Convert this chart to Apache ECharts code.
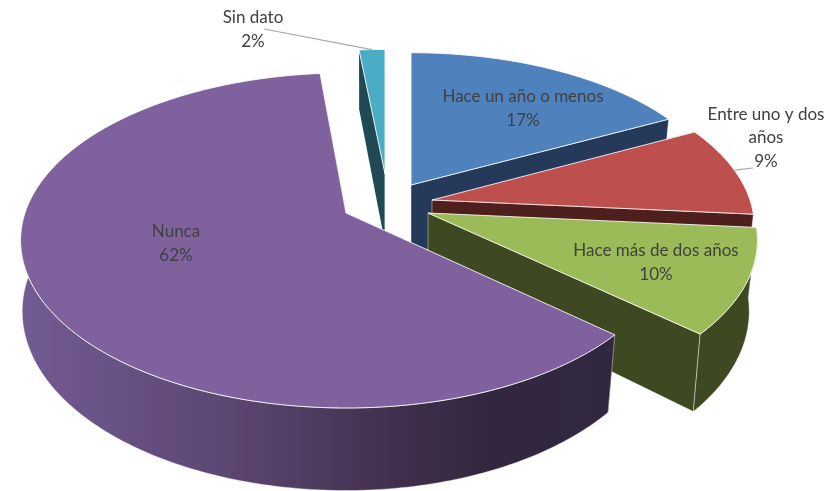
<!DOCTYPE html>
<html><head><meta charset="utf-8">
<style>html,body{margin:0;padding:0;background:#fff}#c{width:827px;height:491px}</style>
<script src="https://cdn.jsdelivr.net/npm/echarts@6/dist/echarts.min.js"></script>
</head><body><div id="c"></div>
<script>
// ---- data (clockwise from 12 o'clock) ----
const categories = ['Hace un año o menos', 'Entre uno y dos años', 'Hace más de dos años', 'Nunca', 'Sin dato'];
const shares = [17.4, 9, 10.2, 61.9, 1.5];
const labelNames = ['Hace un año o menos', 'Entre uno y dos\naños', 'Hace más de dos años', 'Nunca', 'Sin dato'];

// ---- layout and style (separate from the data) ----
const apexes = [[411,185],[432,200],[428,213],[346,213],[385,174]];
const rimRadii = [[312,154],[318,159],[325,162],[321,163],[321,145]];
const labelCentres = [[523,108.5],[766,138],[656,262.5],[176,243.5],[253,29.5]];
const leaderEnds = [null,[753,168],null,null,[264,29]];
const topColors = ['#4f81bd','#bd4f4c','#9bbb59','#7f619d','#4bacc6'];
const wallColors = ['#253a5a','#4f1f1d','#3f4921',null,'#1f4a54'];
const paintOrder = [1,2,3,4,0];   // z order of each slice: teal, blue, red, green, purple
const PERSP = 0.164, DEPTH = 69, SHRINK_RIGHT = 0.975, SHRINK_LEFT = 0.995;

const total = shares.reduce((a,b)=>a+b,0);
const rad = d => d*Math.PI/180;
function rimTop(i, deg){
  const u=Math.sin(rad(deg)), v=Math.cos(rad(deg)), s=1/(1+PERSP*v);
  return {x:apexes[i][0]+rimRadii[i][0]*u*s, y:apexes[i][1]-rimRadii[i][1]*v*s, s};
}
function rimBottom(i, deg){
  const p=rimTop(i,deg), dx=p.x-apexes[i][0];
  return [apexes[i][0]+dx*(dx<0?SHRINK_LEFT:SHRINK_RIGHT), p.y+DEPTH*p.s];
}
function arc(fn, i, a0, a1){
  const pts=[], n=Math.max(4,Math.ceil(a1-a0));
  for(let k=0;k<=n;k++){
    const r=fn(i,a0+(a1-a0)*k/n);
    pts.push(Array.isArray(r)?r:[r.x,r.y]);
  }
  return pts;
}
function renderItem(params, api){
  const i=params.dataIndex;
  let startShare=0;
  for(let k=0;k<i;k++) startShare+=shares[k];
  const a0=startShare/total*360, a1=a0+api.value(0)/total*360;
  const apex=apexes[i], z=paintOrder[i]*10;
  const topArc=arc(rimTop,i,a0,a1), botArc=arc(rimBottom,i,a0,a1);
  const wallFill = wallColors[i] || {type:'linear',x:0,y:0,x2:1,y2:0,colorStops:[
    {offset:0,color:'#735b94'},{offset:0.35,color:'#5c4672'},{offset:0.62,color:'#43304f'},{offset:0.78,color:'#33273f'},{offset:1,color:'#322741'}]};
  const wallLine={stroke:'rgba(255,255,255,0.6)',lineWidth:0.7};
  const apexLow=[apex[0],apex[1]+DEPTH];
  const children=[];
  const poly=(pts,fill,zz,line)=>children.push({type:'polygon',z2:zz,shape:{points:pts},style:Object.assign({fill},line||{})});
  poly([apex,topArc[0],botArc[0],apexLow],wallFill,z);
  poly([apex,topArc[topArc.length-1],botArc[botArc.length-1],apexLow],wallFill,z+1,wallLine);
  // outer wall: only where a slice's rim faces the viewer
  const f0=Math.max(a0,90), f1=Math.min(a1,275);
  if(f1-f0>10) poly(arc(rimTop,i,f0,f1).concat(arc(rimBottom,i,f0,f1).reverse()),wallFill,z+2,wallLine);
  poly([apex].concat(topArc),topColors[i],z+3,{stroke:'rgba(255,255,255,0.85)',lineWidth:1});
  if(leaderEnds[i]){
    const m=rimTop(i,(a0+a1)/2);
    children.push({type:'polyline',z2:90,shape:{points:[[m.x,m.y],leaderEnds[i]]},style:{fill:null,stroke:'#a6a6a6',lineWidth:1.2}});
  }
  children.push({type:'text',z2:100,style:{
    text:labelNames[i]+'\n'+Math.round(api.value(0))+'%',
    x:labelCentres[i][0],y:labelCentres[i][1],align:'center',verticalAlign:'middle',
    fill:'#404040',font:'17px Lato',lineHeight:23.5}});
  return {type:'group',children};
}
const chart=echarts.init(document.getElementById('c'),null,{renderer:'canvas'});
chart.setOption({
  animation:false,
  backgroundColor:'#fff',
  series:[{type:'custom',coordinateSystem:'none',silent:true,renderItem,
    data:categories.map((name,i)=>({name,value:[shares[i]]}))}]
});
</script></body></html>
